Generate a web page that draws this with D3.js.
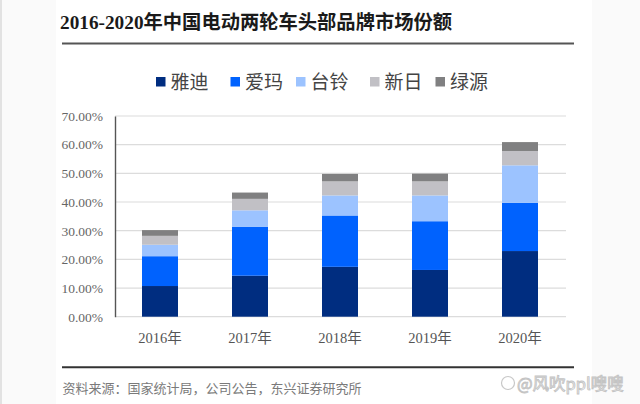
<!DOCTYPE html>
<html><head><meta charset="utf-8">
<script src="https://cdn.jsdelivr.net/npm/d3@7"></script>
<style>
html,body{margin:0;padding:0;background:#fff;}
svg{display:block;}
</style></head>
<body>
<svg id="c" width="640" height="404"></svg>
<script>
const years = ["2016年","2017年","2018年","2019年","2020年"];
const brands = ["雅迪","爱玛","台铃","新日","绿源"];
const yadi    = [10.7, 14.3, 17.4, 16.3, 22.9];
const aima    = [10.4, 17.0, 17.9, 17.0, 16.8];
const tailing = [ 4.0,  5.8,  7.0,  9.0, 13.1];
const xinri   = [ 3.1,  4.0,  4.9,  4.9,  5.0];
const lvyuan  = [ 2.0,  2.2,  2.6,  2.7,  3.1];
const yTicks  = [0,10,20,30,40,50,60,70];
const titleText = "2016-2020年中国电动两轮车头部品牌市场份额";
const sourceText = "资料来源：国家统计局，公司公告，东兴证券研究所";
const watermark = "@风吹ppl嗖嗖";

const colors = ["#002d80","#0062fe","#9cc3ff","#c1c0c5","#808081"];
const seriesVals = [yadi, aima, tailing, xinri, lvyuan];
const serif = "'Liberation Serif','Noto Sans CJK SC',serif";
const cjk = "'Liberation Serif','Noto Sans CJK SC',sans-serif";

const svg = d3.select("#c");
svg.append("rect").attr("x",0).attr("y",0).attr("width",640).attr("height",404).attr("fill","#fafafa");
svg.append("rect").attr("x",56).attr("y",0).attr("width",536).attr("height",404).attr("fill","#ffffff");
svg.append("line").attr("x1",1).attr("x2",1).attr("y1",0).attr("y2",404).attr("stroke","#e2e2e2").attr("stroke-width",2);

// title
svg.append("text").attr("x",60).attr("y",28.5)
  .attr("font-family",cjk).attr("font-weight","bold").attr("font-size",19.3)
  .attr("fill","#1a1a1a").text(titleText);
svg.append("line").attr("x1",62).attr("x2",574).attr("y1",43.5).attr("y2",43.5)
  .attr("stroke","#555").attr("stroke-width",2);

// scales
const x = d3.scaleBand().domain(years).range([115,565]).paddingInner(0.6).paddingOuter(0.3);
const y = d3.scaleLinear().domain([0,70]).range([316.7,116]);

// grid
svg.append("g").selectAll("line").data(yTicks).join("line")
  .attr("x1",115).attr("x2",566).attr("y1",d=>y(d)).attr("y2",d=>y(d))
  .attr("stroke","#dcdcdc").attr("stroke-width",1.2);

// y axis
const yAxis = d3.axisLeft(y).tickValues(yTicks).tickSize(0).tickPadding(12)
  .tickFormat(d=>d.toFixed(2)+"%");
const ya = svg.append("g").attr("transform","translate(115,0)").call(yAxis);
ya.select(".domain").attr("stroke","#555").attr("stroke-width",1.4);
ya.selectAll("text").attr("font-family",serif).attr("font-size",13.5).attr("fill","#666");

// stacked data
const rows = years.map((yr,i)=>{const o={year:yr}; brands.forEach((b,j)=>o[b]=seriesVals[j][i]); return o;});
const stack = d3.stack().keys(brands)(rows);
svg.append("g").selectAll("g").data(stack).join("g")
  .attr("fill",(d,i)=>colors[i])
  .selectAll("rect").data(d=>d).join("rect")
  .attr("x",d=>x(d.data.year)).attr("width",x.bandwidth())
  .attr("y",d=>y(d[1])).attr("height",d=>y(d[0])-y(d[1]));

// x axis labels
const xAxis = d3.axisBottom(x).tickSize(0).tickPadding(16);
const xa = svg.append("g").attr("transform","translate(0,316.7)").call(xAxis);
xa.select(".domain").remove();
xa.selectAll("text").attr("font-family",serif).attr("font-size",14.5).attr("fill","#555");

// legend
const legX = [156,230.5,296,370,435.5];
const lg = svg.append("g").selectAll("g").data(brands).join("g")
  .attr("transform",(d,i)=>`translate(${legX[i]},0)`);
lg.append("rect").attr("x",0).attr("y",77).attr("width",9.5).attr("height",9.5).attr("fill",(d,i)=>colors[i]);
lg.append("text").attr("x",14.5).attr("y",89).attr("font-family",cjk).attr("font-size",19)
  .attr("fill","#444").text(d=>d);

// bottom rule and source
svg.append("line").attr("x1",62).attr("x2",574).attr("y1",367.3).attr("y2",367.3)
  .attr("stroke","#333").attr("stroke-width",2);
svg.append("text").attr("x",62.5).attr("y",393).attr("font-family",cjk).attr("font-size",13)
  .attr("fill","#7a7a7a").text(sourceText);

// watermark
const wm = svg.append("g");
wm.append("circle").attr("cx",508).attr("cy",383).attr("r",6.5).attr("fill","none").attr("stroke","#c8c8c8").attr("stroke-width",1.2);
wm.append("text").attr("x",517).attr("y",389.5).attr("font-family","'Noto Sans CJK SC',sans-serif").attr("font-size",16.5)
  .attr("fill","#f4f4f4").attr("stroke","#c4c4c4").attr("stroke-width",0.9).text(watermark);
</script>
</body></html>
